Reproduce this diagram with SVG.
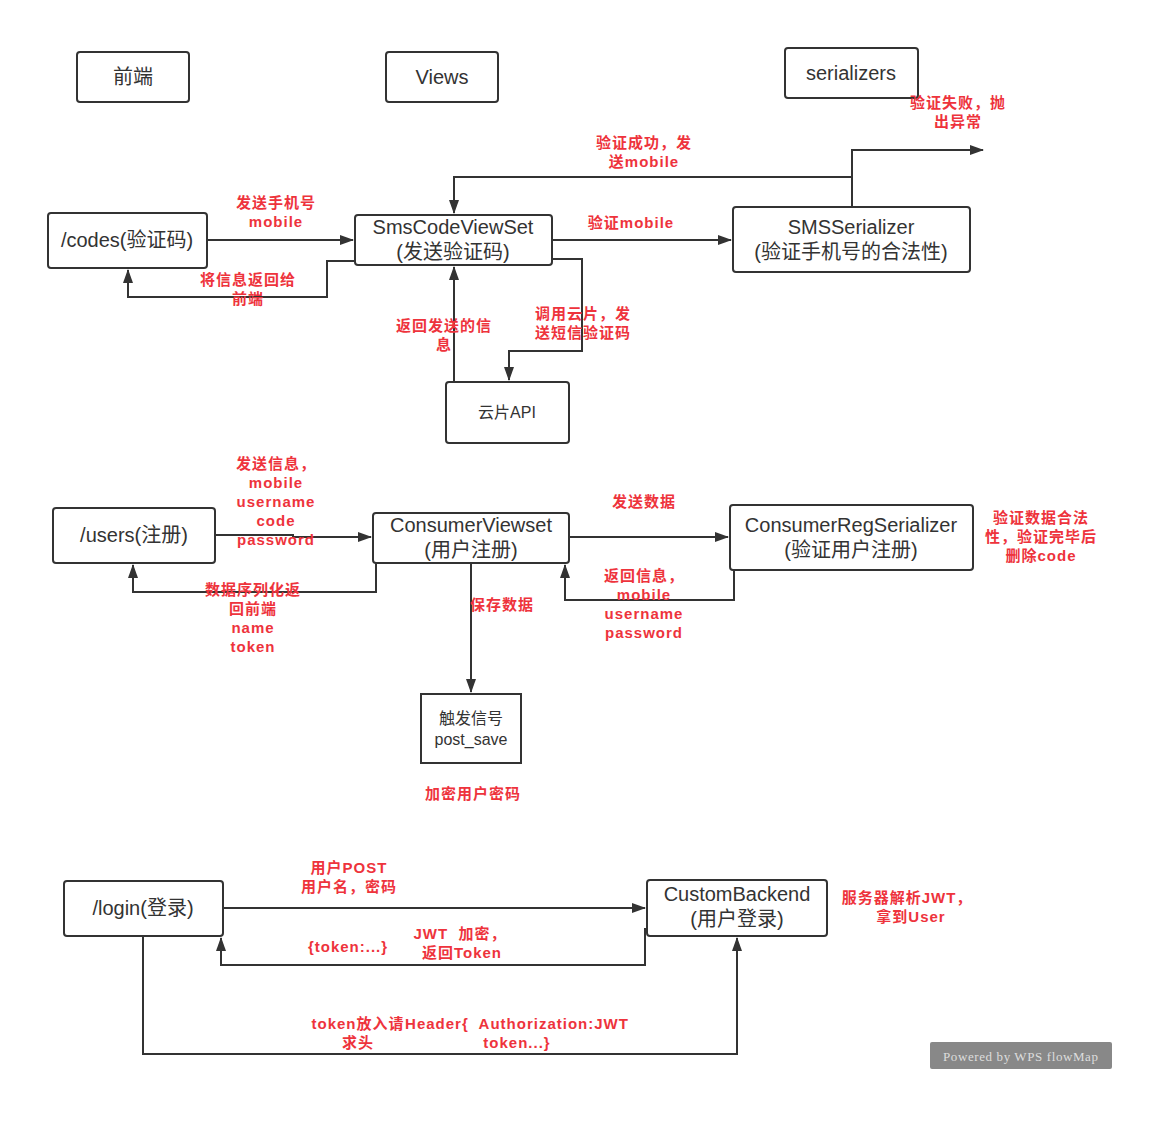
<svg xmlns="http://www.w3.org/2000/svg" width="1172" height="1123" viewBox="0 0 1172 1123">
<style>
.box{fill:#fff;stroke:#333;stroke-width:2}
.t{font-family:"Liberation Sans","Noto Sans CJK SC",sans-serif;fill:#333;text-anchor:middle;font-size:20px}
.lbl{font-family:"Liberation Sans","Noto Sans CJK SC",sans-serif;font-weight:bold;font-size:15px;letter-spacing:1px;fill:#ee333c;text-anchor:middle}
.c{fill:none;stroke:#333;stroke-width:2}
</style>
<defs>
<marker id="ah" markerUnits="userSpaceOnUse" markerWidth="14" markerHeight="10" refX="13" refY="5" orient="auto">
<path d="M0,0 L14,5 L0,10 z" fill="#333"/>
</marker>
</defs>
<rect width="1172" height="1123" fill="#fff"/>

<g id="connectors">
<path class="c" d="M207,240 H353" marker-end="url(#ah)"/>
<path class="c" d="M355,261 H327 V297 H128 V270" marker-end="url(#ah)"/>
<path class="c" d="M552,240 H731" marker-end="url(#ah)"/>
<path class="c" d="M852,207 V150 H983" marker-end="url(#ah)"/>
<path class="c" d="M852,177 H454 V213" marker-end="url(#ah)"/>
<path class="c" d="M552,259 H582 V351 H509 V380" marker-end="url(#ah)"/>
<path class="c" d="M454,382 V267" marker-end="url(#ah)"/>
<path class="c" d="M215,535 H293 V537 H371" marker-end="url(#ah)"/>
<path class="c" d="M376,563 V592 H133 V565" marker-end="url(#ah)"/>
<path class="c" d="M471,563 V692" marker-end="url(#ah)"/>
<path class="c" d="M569,537 H728" marker-end="url(#ah)"/>
<path class="c" d="M734,570 V600 H565 V565" marker-end="url(#ah)"/>
<path class="c" d="M223,908 H645" marker-end="url(#ah)"/>
<path class="c" d="M645,928 V965 H221 V938" marker-end="url(#ah)"/>
<path class="c" d="M143,936 V1054 H737 V938" marker-end="url(#ah)"/>
</g>

<g id="n-frontend"><rect class="box" x="77" y="52" width="112" height="50" rx="3"/><text class="t" x="133" y="84">前端</text></g>
<g id="n-views"><rect class="box" x="386" y="52" width="112" height="50" rx="3"/><text class="t" x="442" y="84">Views</text></g>
<g id="n-serializers"><rect class="box" x="785" y="48" width="133" height="50" rx="3"/><text class="t" x="851" y="80">serializers</text></g>
<g id="n-codes"><rect class="box" x="48" y="213" width="159" height="55" rx="3"/><text class="t" x="127" y="247">/codes(验证码)</text></g>
<g id="n-smscode"><rect class="box" x="355" y="215" width="197" height="50" rx="3"/><text class="t" x="453" y="234">SmsCodeViewSet</text><text class="t" x="453" y="259">(发送验证码)</text></g>
<g id="n-smsserializer"><rect class="box" x="733" y="207" width="237" height="65" rx="3"/><text class="t" x="851" y="234">SMSSerializer</text><text class="t" x="851" y="259">(验证手机号的合法性)</text></g>
<g id="n-yunpian"><rect class="box" x="446" y="382" width="123" height="61" rx="3"/><text class="t" x="507" y="418" font-size="16" style="font-size:16px">云片API</text></g>
<g id="n-users"><rect class="box" x="53" y="508" width="162" height="55" rx="3"/><text class="t" x="134" y="542">/users(注册)</text></g>
<g id="n-consumerviewset"><rect class="box" x="373" y="513" width="196" height="50" rx="3"/><text class="t" x="471" y="532">ConsumerViewset</text><text class="t" x="471" y="557">(用户注册)</text></g>
<g id="n-consumerreg"><rect class="box" x="730" y="505" width="243" height="65" rx="3"/><text class="t" x="851" y="532">ConsumerRegSerializer</text><text class="t" x="851" y="557">(验证用户注册)</text></g>
<g id="n-signal"><rect class="box" x="421" y="694" width="100" height="69"/><text class="t" x="471" y="724" style="font-size:16px">触发信号</text><text class="t" x="471" y="745" style="font-size:16px">post_save</text></g>
<g id="n-login"><rect class="box" x="64" y="881" width="159" height="55" rx="3"/><text class="t" x="143" y="915">/login(登录)</text></g>
<g id="n-backend"><rect class="box" x="647" y="880" width="180" height="56" rx="3"/><text class="t" x="737" y="901">CustomBackend</text><text class="t" x="737" y="926">(用户登录)</text></g>

<g id="labels">
<text class="lbl" x="644" y="148">验证成功，发</text><text class="lbl" x="644" y="167">送mobile</text>
<text class="lbl" x="958" y="108">验证失败，抛</text><text class="lbl" x="958" y="127">出异常</text>
<text class="lbl" x="276" y="208">发送手机号</text><text class="lbl" x="276" y="227">mobile</text>
<text class="lbl" x="631" y="228">验证mobile</text>
<text class="lbl" x="248" y="285">将信息返回给</text><text class="lbl" x="248" y="304">前端</text>
<text class="lbl" x="444" y="331">返回发送的信</text><text class="lbl" x="444" y="350">息</text>
<text class="lbl" x="583" y="319">调用云片，发</text><text class="lbl" x="583" y="338">送短信验证码</text>
<text class="lbl" x="276" y="469">发送信息，</text><text class="lbl" x="276" y="488">mobile</text><text class="lbl" x="276" y="507">username</text><text class="lbl" x="276" y="526">code</text><text class="lbl" x="276" y="545">password</text>
<text class="lbl" x="253" y="595">数据序列化返</text><text class="lbl" x="253" y="614">回前端</text><text class="lbl" x="253" y="633">name</text><text class="lbl" x="253" y="652">token</text>
<text class="lbl" x="644" y="507">发送数据</text>
<text class="lbl" x="644" y="581">返回信息，</text><text class="lbl" x="644" y="600">mobile</text><text class="lbl" x="644" y="619">username</text><text class="lbl" x="644" y="638">password</text>
<text class="lbl" x="502" y="610">保存数据</text>
<text class="lbl" x="1041" y="523">验证数据合法</text><text class="lbl" x="1041" y="542">性，验证完毕后</text><text class="lbl" x="1041" y="561">删除code</text>
<text class="lbl" x="473" y="799">加密用户密码</text>
<text class="lbl" x="349" y="873">用户POST</text><text class="lbl" x="349" y="892">用户名，密码</text>
<text class="lbl" x="348" y="952">{token:...}</text>
<text class="lbl" x="460" y="939" xml:space="preserve">JWT  加密，</text><text class="lbl" x="462" y="958">返回Token</text>
<text class="lbl" x="907" y="903">服务器解析JWT，</text><text class="lbl" x="911" y="922">拿到User</text>
<text class="lbl" x="358" y="1029">token放入请</text><text class="lbl" x="358" y="1048">求头</text>
<text class="lbl" x="517" y="1029" xml:space="preserve">Header{  Authorization:JWT</text><text class="lbl" x="517" y="1048">token...}</text>
</g>

<g id="watermark">
<rect x="930" y="1042" width="182" height="27" rx="2" fill="#888"/>
<text x="943" y="1061" font-family="Liberation Serif,serif" font-size="13" fill="#ddd" textLength="155">Powered by WPS flowMap</text>
</g>
</svg>
